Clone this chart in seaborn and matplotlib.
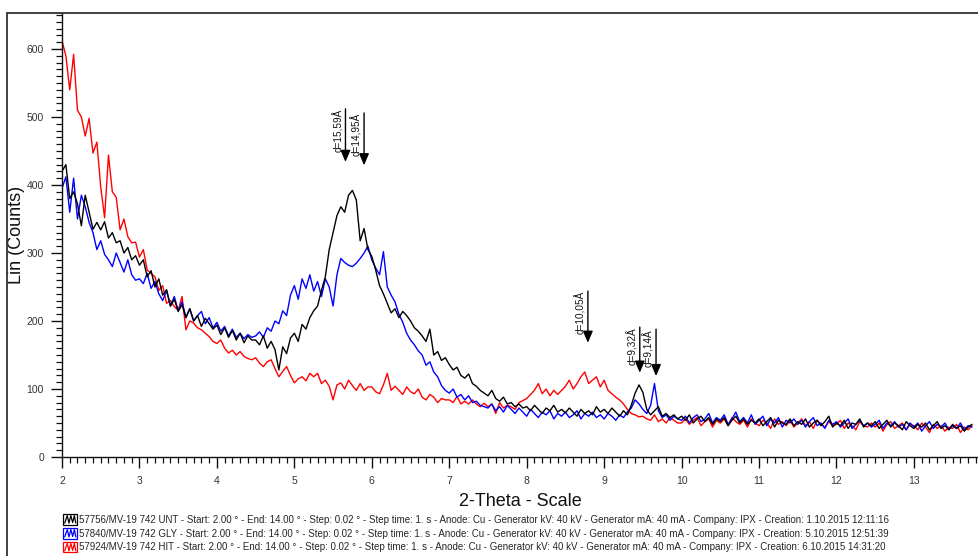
import numpy as np
import pandas as pd
import matplotlib
matplotlib.use("Agg")
import matplotlib.pyplot as plt
import seaborn as sns
from matplotlib.legend_handler import HandlerBase
from matplotlib.patches import Rectangle
from matplotlib.lines import Line2D
from matplotlib.ticker import MultipleLocator

# ---------------- data ----------------
two_theta_start = 2.00
two_theta_step = 0.05

unt = [
    420, 430, 380, 390, 372, 340, 385, 360, 335, 345,
    334, 346, 322, 330, 315, 318, 300, 308, 290, 296,
    282, 290, 265, 274, 250, 262, 238, 246, 222, 232,
    214, 224, 205, 218, 200, 208, 192, 204, 196, 188,
    194, 180, 190, 176, 186, 172, 182, 168, 178, 172,
    172, 165, 178, 160, 170, 158, 128, 162, 152, 175,
    182, 170, 195, 188, 205, 215, 222, 245, 265, 305,
    330, 355, 368, 360, 385, 392, 378, 318, 336, 305,
    295, 275, 252, 240, 226, 212, 218, 205, 214, 208,
    200, 190, 185, 178, 170, 188, 150, 155, 142, 146,
    136, 128, 132, 120, 116, 122, 108, 104, 98, 94,
    90, 98, 86, 82, 88, 78, 80, 74, 78, 72,
    74, 68, 76, 70, 64, 72, 68, 76, 66, 70,
    65, 72, 66, 60, 70, 64, 68, 62, 74, 66,
    70, 64, 72, 66, 60, 68, 62, 76, 94, 106,
    95, 70, 62, 68, 74, 60, 64, 58, 62, 56,
    60, 54, 62, 50, 56, 60, 52, 58, 48, 56,
    52, 58, 46, 54, 60, 50, 56, 48, 54, 50,
    56, 46, 52, 58, 44, 54, 50, 48, 56, 46,
    52, 48, 56, 44, 50, 54, 46, 52, 60, 44,
    50, 46, 54, 42, 50, 48, 56, 44, 50, 46,
    52, 42, 48, 54, 44, 50, 46, 40, 52, 46,
    42, 48, 44, 50, 40, 46, 52, 42, 46, 40,
    48, 42, 46, 38, 44, 48,
]

gly = [
    395, 412, 360, 410, 350, 385, 368, 345, 330, 305,
    318, 298, 290, 280, 300, 286, 272, 290, 268, 260,
    262, 255, 270, 248, 258, 240, 230, 245, 222, 236,
    215, 228, 205, 218, 200, 208, 214, 196, 205, 190,
    198, 185, 192, 178, 188, 176, 182, 174, 180, 176,
    178, 184, 176, 190, 185, 200, 196, 215, 208, 238,
    252, 232, 262, 248, 268, 244, 258, 236, 262, 250,
    222, 268, 292, 286, 282, 280, 285, 292, 300, 310,
    290, 278, 268, 302, 250, 238, 228, 210, 198, 182,
    172, 165, 156, 150, 135, 140, 125, 118, 105, 98,
    94, 100, 88, 92, 84, 90, 80, 82, 76, 74,
    72, 78, 68, 74, 66, 76, 70, 64, 72, 66,
    60, 70, 64, 58, 66, 62, 68, 56, 64, 60,
    66, 58, 62, 68, 56, 64, 60, 66, 58, 62,
    56, 64, 60, 54, 62, 58, 66, 72, 84, 78,
    70, 64, 76, 108, 68, 58, 62, 54, 60, 56,
    54, 60, 50, 58, 62, 52, 56, 64, 50, 58,
    54, 62, 48, 56, 66, 52, 58, 50, 62, 48,
    54, 60, 46, 56, 50, 58, 44, 54, 50, 56,
    48, 54, 44, 52, 58, 46, 50, 42, 54, 48,
    52, 44, 50, 56, 42, 48, 54, 46, 50, 44,
    48, 54, 42, 50, 46, 52, 44, 48, 40, 50,
    44, 50, 38, 46, 52, 42, 48, 44, 50, 40,
    46, 42, 50, 40, 46, 44,
]

hit = [
    612, 590, 540, 592, 510, 500, 472, 498, 447, 463,
    397, 352, 444, 390, 382, 334, 350, 324, 315, 316,
    294, 305, 275, 270, 265, 245, 252, 226, 230, 221,
    216, 236, 187, 200, 197, 190, 187, 182, 177, 170,
    167, 172, 160, 153, 157, 150, 155, 148, 145, 143,
    146, 138, 133, 140, 143, 130, 118, 126, 133, 120,
    109, 115, 118, 112, 123, 118, 123, 108, 113, 104,
    84, 106, 109, 100, 113, 105, 98, 108, 98, 103,
    103, 96, 93, 106, 123, 98, 104, 98, 92, 103,
    96, 93, 100, 88, 84, 92, 88, 80, 86, 84,
    84, 80, 89, 78, 82, 78, 84, 78, 74, 79,
    74, 78, 64, 80, 72, 76, 74, 70, 80, 83,
    86, 92, 98, 108, 93, 100, 90, 98, 92, 98,
    104, 113, 100, 108, 118, 125, 108, 113, 118, 103,
    113, 98, 93, 88, 84, 78, 70, 64, 62, 59,
    60, 56, 54, 62, 52, 56, 50, 58, 54, 50,
    50, 56, 48, 54, 58, 46, 52, 56, 44, 54,
    50, 56, 46, 58, 52, 48, 54, 44, 56, 50,
    46, 54, 50, 42, 56, 48, 52, 46, 54, 44,
    50, 56, 46, 52, 42, 54, 48, 44, 52, 46,
    48, 54, 42, 50, 46, 40, 52, 46, 44, 50,
    44, 50, 38, 48, 52, 42, 46, 50, 40, 48,
    46, 40, 50, 44, 36, 48, 42, 46, 38, 44,
    42, 48, 36, 44, 40, 46,
]

series_names = ["UNT", "GLY", "HIT"]
series_colors = ["#000000", "#0000ff", "#ff0000"]
legend_labels = [
    "57756/MV-19 742 UNT - Start: 2.00 ° - End: 14.00 ° - Step: 0.02 ° - Step time: 1. s - Anode: Cu - Generator kV: 40 kV - Generator mA: 40 mA - Company: IPX - Creation: 1.10.2015 12:11:16",
    "57840/MV-19 742 GLY - Start: 2.00 ° - End: 14.00 ° - Step: 0.02 ° - Step time: 1. s - Anode: Cu - Generator kV: 40 kV - Generator mA: 40 mA - Company: IPX - Creation: 5.10.2015 12:51:39",
    "57924/MV-19 742 HIT - Start: 2.00 ° - End: 14.00 ° - Step: 0.02 ° - Step time: 1. s - Anode: Cu - Generator kV: 40 kV - Generator mA: 40 mA - Company: IPX - Creation: 6.10.2015 14:31:20",
]

peak_labels = ["d=15,59Å", "d=14,95Å", "d=10,05Å", "d=9,32Å", "d=9,14Å"]
peak_pos = [5.66, 5.90, 8.79, 9.46, 9.67]
arrow_top = [512, 506, 244, 191, 188]
arrow_tip = [434, 429, 168, 124, 119]

x_ticks = [2, 3, 4, 5, 6, 7, 8, 9, 10, 11, 12, 13]
y_ticks = [0, 100, 200, 300, 400, 500, 600]

# ---------------- build table ----------------
n = len(unt)
two_theta = np.round(two_theta_start + two_theta_step * np.arange(n), 2)
df = pd.concat([
    pd.DataFrame({"two_theta": two_theta, "counts": vals, "sample": name})
    for name, vals in zip(series_names, [unt, gly, hit])
], ignore_index=True)

# ---------------- style ----------------
sns.set_style("ticks")
plt.rcParams["font.family"] = ["Liberation Sans", "DejaVu Sans"]

W, H = 979, 556
fig = plt.figure(figsize=(W / 100, H / 100), dpi=100)
ax = fig.add_axes([62 / W, 1 - 457 / H, 1 - 62 / W, (457 - 13) / H])

draw_order = ["HIT", "GLY", "UNT"]
palette = dict(zip(series_names, series_colors))
for name in draw_order:
    sns.lineplot(data=df[df["sample"] == name], x="two_theta", y="counts",
                 color=palette[name], lw=1.0, ax=ax, legend=False)

ax.set_xlim(2, 2 + (W - 62) / 77.45)
ax.set_ylim(0, (457 - 13) / 0.68)

ax.set_xticks(x_ticks)
ax.set_yticks(y_ticks)
ax.xaxis.set_minor_locator(MultipleLocator(0.1))
ax.yaxis.set_minor_locator(MultipleLocator(10))
ax.tick_params(axis="both", which="major", direction="out", length=8, width=1,
               colors="#111111", labelcolor="#333333", labelsize=7.5)
ax.tick_params(axis="both", which="minor", direction="out", length=4.5, width=0.9,
               colors="#111111")
ax.tick_params(axis="x", which="major", pad=6)
ax.tick_params(axis="y", which="major", pad=5)

for s in ["top", "right"]:
    ax.spines[s].set_visible(False)
for s in ["left", "bottom"]:
    ax.spines[s].set_color("#111111")
    ax.spines[s].set_linewidth(1.0)

ax.set_xlabel("2-Theta - Scale", fontsize=13, color="#111111", va="center")
ax.set_ylabel("Lin (Counts)", fontsize=13, color="#111111", va="center")
ax.xaxis.set_label_coords(0.5, -(502 - 457) / (457 - 13), transform=ax.transAxes)
ax.yaxis.set_label_coords(-(62 - 16) / (W - 62), 0.5, transform=ax.transAxes)

# peak markers
for lbl, xp, yt, yb in zip(peak_labels, peak_pos, arrow_top, arrow_tip):
    ax.annotate("", xy=(xp, yb), xytext=(xp, yt),
                arrowprops=dict(arrowstyle="-|>,head_length=0.7,head_width=0.3",
                                color="black", lw=1.0, shrinkA=0, shrinkB=0))
    ax.annotate(lbl, xy=(xp, yt), xytext=(-1.2, 0), textcoords="offset points",
                rotation=90, ha="right", va="top", fontsize=7.2, color="#111111")

# outer frame
fig.add_artist(Line2D([7 / W, 1], [1 - 13 / H, 1 - 13 / H], transform=fig.transFigure,
                      color="#333333", lw=1.3))
fig.add_artist(Line2D([7 / W, 7 / W], [0, 1 - 13 / H], transform=fig.transFigure,
                      color="#333333", lw=1.3))


# legend with small waveform icons
class WaveHandler(HandlerBase):
    def create_artists(self, legend, orig_handle, xdescent, ydescent,
                       width, height, fontsize, trans):
        c = orig_handle.get_color()
        x0, y0 = -xdescent, -ydescent
        rect = Rectangle((x0, y0), width, height, fill=False, edgecolor=c,
                         lw=0.9, transform=trans)
        fx = np.array([0.12, 0.3, 0.42, 0.55, 0.68, 0.8, 0.9])
        fy = np.array([0.15, 0.85, 0.15, 0.85, 0.2, 0.85, 0.15])
        wave = Line2D(x0 + width * fx, y0 + height * fy, color=c, lw=0.9,
                      transform=trans)
        return [rect, wave]


handles = [Line2D([], [], color=c) for c in series_colors]
fig.legend(handles, legend_labels, loc="upper left",
           bbox_to_anchor=(63 / W, 1 - 514 / H), bbox_transform=fig.transFigure,
           frameon=False, fontsize=7.05, handler_map={Line2D: WaveHandler()},
           handlelength=1.45, handleheight=1.3, handletextpad=0.15,
           labelspacing=0.33, borderpad=0, borderaxespad=0)

fig.savefig("out.png", dpi=100)
